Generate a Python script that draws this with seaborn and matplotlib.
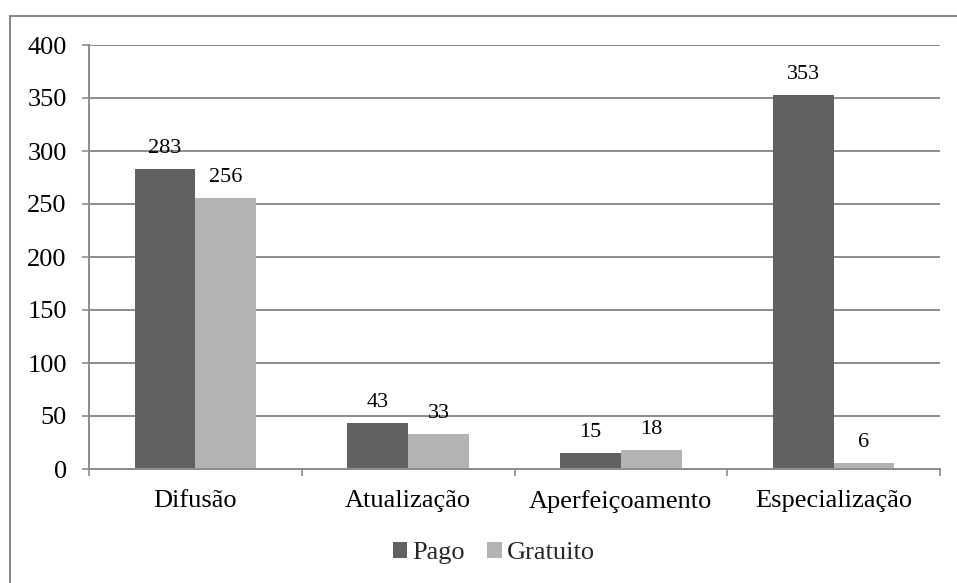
import matplotlib
matplotlib.use("Agg")
import matplotlib.pyplot as plt
import seaborn as sns
import pandas as pd
from matplotlib.patches import Rectangle, Patch
from matplotlib.ticker import FixedLocator, MultipleLocator

# Course counts by type and payment modality
categories = ["Difusão", "Atualização", "Aperfeiçoamento", "Especialização"]
series = ["Pago", "Gratuito"]
pago = [283, 43, 15, 353]
gratuito = [256, 33, 18, 6]

colors = {"Pago": "#616161", "Gratuito": "#b3b3b3"}
grid_gray = "#8c8c8c"

df = pd.DataFrame({
    "Tipo": categories * 2,
    "Modalidade": ["Pago"] * len(categories) + ["Gratuito"] * len(categories),
    "Cursos": pago + gratuito,
})

sns.set_theme(style="white")
plt.rcParams["font.family"] = ["Liberation Serif", "DejaVu Serif"]

fig = plt.figure(figsize=(9.57, 5.83), dpi=100)
ax = fig.add_axes([89 / 957, 1 - 469 / 583, (940 - 89) / 957, (469 - 45) / 583])

sns.barplot(data=df, x="Tipo", y="Cursos", hue="Modalidade", order=categories,
            hue_order=series, palette=colors, width=0.57, gap=0, ax=ax,
            saturation=1, errorbar=None, legend=False, edgecolor="none", linewidth=0)

ax.set_ylim(0, 400)
ax.set_xlim(-0.5, len(categories) - 0.5)
ax.yaxis.set_major_locator(MultipleLocator(50))
ax.grid(axis="y", color=grid_gray, linewidth=1.4)
ax.set_axisbelow(True)
ax.set_xlabel("")
ax.set_ylabel("")

for side in ["top", "right"]:
    ax.spines[side].set_visible(False)
for side in ["left", "bottom"]:
    ax.spines[side].set_color(grid_gray)
    ax.spines[side].set_linewidth(1.4)

ax.tick_params(axis="y", which="major", length=5, width=1.2, color=grid_gray,
               pad=11, labelsize=19, labelcolor="black", left=True)
ax.tick_params(axis="x", which="major", length=0, pad=15, labelsize=19, labelcolor="black")
ax.xaxis.set_minor_locator(FixedLocator([i - 0.5 for i in range(len(categories) + 1)]))
ax.tick_params(axis="x", which="minor", length=5, width=1.2, color=grid_gray, bottom=True)

# Value labels above each bar
for container in ax.containers:
    for bar in container:
        h = bar.get_height()
        ax.annotate(f"{h:.0f}", (bar.get_x() + bar.get_width() / 2, h),
                    xytext=(0, 11.5), textcoords="offset points",
                    ha="center", va="baseline", fontsize=16, color="black")

handles = [Patch(facecolor=colors[s], edgecolor="none", label=s) for s in series]
fig.legend(handles=handles, loc="center", bbox_to_anchor=(494 / 957, 1 - 553 / 583),
           ncol=2, frameon=False, fontsize=19, handlelength=0.54, handleheight=0.54,
           handletextpad=0.2, columnspacing=0.85, borderpad=0)

# Chart area border
fig.patches.append(Rectangle((10 / 957, -0.05), 1.1, 1 - 16 / 583 + 0.05,
                             transform=fig.transFigure, fill=False,
                             edgecolor="#868686", linewidth=1.4))

fig.savefig("out.png", dpi=100)
